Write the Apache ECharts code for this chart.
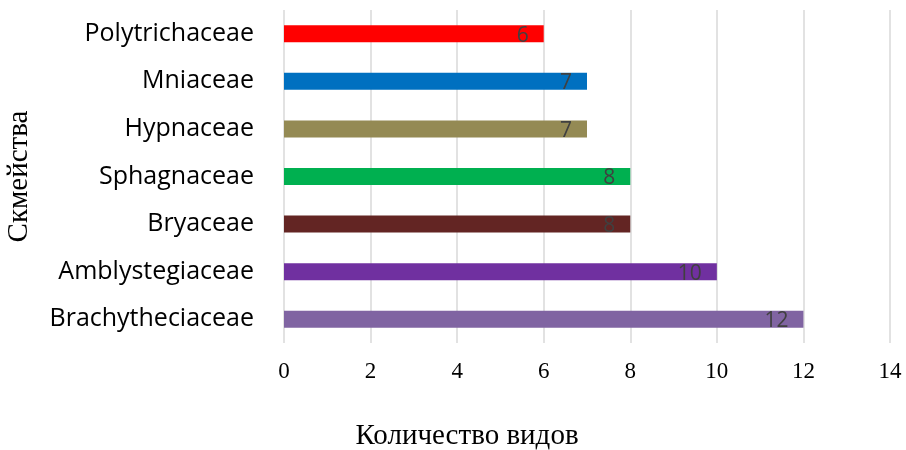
<!DOCTYPE html>
<html>
<head>
<meta charset="utf-8">
<script src="https://cdn.jsdelivr.net/npm/echarts@6/dist/echarts.min.js"></script>
<style>html,body{margin:0;padding:0;background:#fff}#c{width:906px;height:450px}</style>
</head>
<body>
<div id="c"></div>
<script>
const families = ["Polytrichaceae","Mniaceae","Hypnaceae","Sphagnaceae","Bryaceae","Amblystegiaceae","Brachytheciaceae"];
const speciesCount = [6,7,7,8,8,10,12];
const xTicks = [0,2,4,6,8,10,12,14];
const barColors = ["#FF0000","#0070C0","#948A54","#00B050","#632523","#7030A0","#8064A2"];

const chart = echarts.init(document.getElementById('c'), null, {renderer:'canvas'});
chart.setOption({
  animation:false,
  backgroundColor:'#fff',
  grid:{left:284, right:16, top:10, bottom:107, containLabel:false, outerBoundsMode:'none'},
  xAxis:{
    type:'value', min:xTicks[0], max:xTicks[xTicks.length-1], interval:2,
    axisLine:{show:false}, axisTick:{show:false},
    splitLine:{show:true, lineStyle:{color:'#d9d9d9', width:1.5}},
    axisLabel:{fontFamily:'Liberation Serif', fontSize:23, color:'#000', margin:17},
    name:'Количество видов', nameLocation:'middle', nameGap:79,
    nameTextStyle:{fontFamily:'Liberation Serif', fontSize:29, color:'#000', padding:[0,240,0,0]}
  },
  yAxis:{
    type:'category', data:families, inverse:true,
    axisLine:{show:false}, axisTick:{show:false},
    axisLabel:{fontFamily:'Open Sans', fontSize:25, color:'#000', margin:30},
    name:'Скмейства', nameLocation:'middle', nameGap:250, nameRotate:90,
    nameTextStyle:{fontFamily:'Liberation Serif', fontSize:29, color:'#000'}
  },
  series:[{
    type:'bar', barWidth:17,
    data:speciesCount.map((v,i)=>({value:v, itemStyle:{color:barColors[i]}})),
    label:{show:true, position:'insideRight', distance:15, offset:[0,2], color:'#404040',
      fontFamily:'Open Sans', fontSize:21}
  }]
});
</script>
</body>
</html>
